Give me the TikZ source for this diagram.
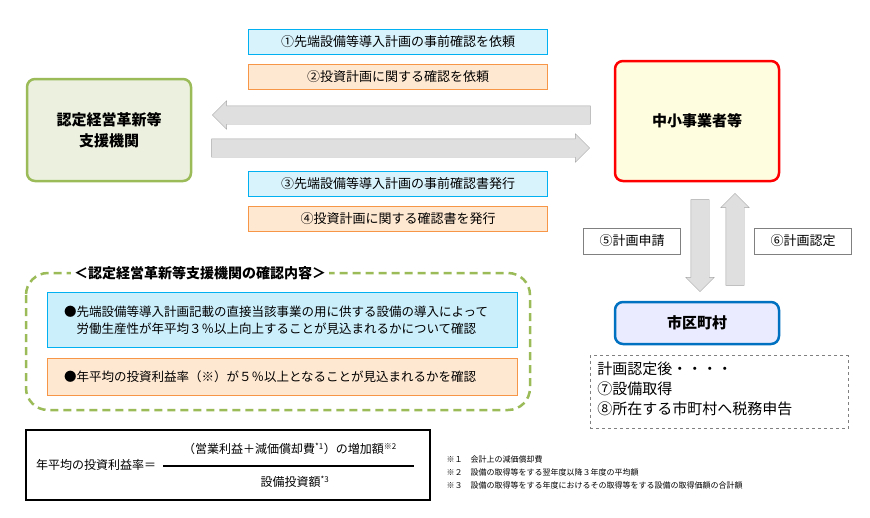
\documentclass[tikz,border=0pt]{standalone}
\usepackage{fontspec}
\setmainfont{Noto Sans CJK JP}
\usetikzlibrary{shapes.arrows, positioning, calc}
\definecolor{kgreen}{RGB}{155, 187, 89}
\definecolor{kcyan}{RGB}{0, 176, 240}
\definecolor{korange}{RGB}{247, 150, 70}
\definecolor{kblue}{RGB}{0, 112, 192}
\tikzset{
    actorbox/.style={rectangle, rounded corners=8pt, line width=2.5pt, align=center,
                     font=\bfseries\fontsize{15}{21}\selectfont},
    cyanlabel/.style={rectangle, draw=kcyan, fill=cyan!15, minimum width=299pt,
                      minimum height=25pt, font=\fontsize{13}{15}\selectfont},
    orangelabel/.style={rectangle, draw=korange, fill=orange!18, minimum width=299pt,
                        minimum height=25pt, font=\fontsize{13}{15}\selectfont},
    steplabel/.style={rectangle, draw=gray, fill=white, minimum width=97pt,
                      minimum height=26pt, font=\fontsize{13}{15}\selectfont},
    bigarrow/.style={single arrow, draw=gray!70, fill=gray!25, minimum height=378pt,
                     minimum width=28pt, single arrow head extend=5pt, inner sep=9pt},
    uparrow/.style={single arrow, draw=gray!70, fill=gray!25, minimum height=92pt,
                    minimum width=28pt, single arrow head extend=5pt, inner sep=9pt},
    note/.style={anchor=west, font=\fontsize{8}{10}\selectfont},
}
\begin{document}
\begin{tikzpicture}[x=1pt, y=-1pt]
\useasboundingbox (0,0) rectangle (870,517);
% actors
\node[actorbox, draw=kgreen, fill=kgreen!20, minimum width=164pt, minimum height=102pt] (shien) at (109,130) {認定経営革新等\\支援機関};
\node[actorbox, draw=red, fill=yellow!12, minimum width=164pt, minimum height=120pt] (chusho) at (697,121) {中小事業者等};
\node[actorbox, draw=kblue, fill=blue!8, minimum width=164pt, minimum height=42pt] (shiku) at (697,323) {市区町村};
% horizontal flows
\node[bigarrow, shape border rotate=180] (toleft) at (406,115) {};
\node[bigarrow] (toright) at (396,148) {};
\node[cyanlabel] (req1) at (398,42) {①先端設備等導入計画の事前確認を依頼};
\node[orangelabel] (req2) at (398,77) {②投資計画に関する確認を依頼};
\node[cyanlabel] (iss1) at (398,184) {③先端設備等導入計画の事前確認書発行};
\node[orangelabel] (iss2) at (398,219) {④投資計画に関する確認書を発行};
% vertical flows
\node[uparrow, shape border rotate=270] (down) at (700,241) {};
\node[uparrow, shape border rotate=90] (up) at (735,244) {};
\node[steplabel] (apply) at (632,241) {⑤計画申請};
\node[steplabel] (approve) at (803,241) {⑥計画認定};
% after approval
\node[draw=gray, dashed, minimum width=258pt, minimum height=73pt] (after) at (719,392) {};
\node[anchor=north west, align=left, font=\fontsize{15}{20}\selectfont] (aftertext) at ($(after.north west)+(4,3)$) {計画認定後・・・・\\⑦設備取得\\⑧所在する市町村へ税務申告};
% confirmation contents
\draw[kgreen, line width=2.5pt, dash pattern=on 8pt off 5pt, rounded corners=22pt] (26,273) rectangle (530,410);
\node[fill=white, font=\bfseries\fontsize{14}{16}\selectfont] (ctitle) at (200,273) {＜認定経営革新等支援機関の確認内容＞};
\node[draw=kcyan, fill=cyan!20, minimum width=470pt, minimum height=55pt, align=left, text width=436pt,
      font=\fontsize{12.5}{17}\selectfont] (check1) at (282,320) {●先端設備等導入計画記載の直接当該事業の用に供する設備の導入によって\\\phantom{●}労働生産性が年平均３％以上向上することが見込まれるかについて確認};
\node[draw=korange, fill=orange!18, minimum width=470pt, minimum height=37pt, align=left,
      font=\fontsize{12.5}{17}\selectfont, text width=436pt] (check2) at (282,377) {●年平均の投資利益率（※）が５％以上となることが見込まれるかを確認};
% formula
\node[draw, line width=2pt, minimum width=404pt, minimum height=70pt] (formula) at (228,465) {};
\node[font=\fontsize{12}{14}\selectfont] (rate) at (96,465) {年平均の投資利益率＝};
\draw[line width=1.2pt] (163,466) -- (414,466);
\node[font=\fontsize{12}{14}\selectfont] (numer) at (290,449) {（営業利益＋減価償却費\textsuperscript{*1}）の増加額\textsuperscript{※2}};
\node[font=\fontsize{12}{14}\selectfont] (denom) at (295,482) {設備投資額\textsuperscript{*3}};
% notes
\node[note] (n1) at (443,459) {※１\quad 会計上の減価償却費};
\node[note] (n2) at (443,472) {※２\quad 設備の取得等をする翌年度以降３年度の平均額};
\node[note] (n3) at (443,485) {※３\quad 設備の取得等をする年度におけるその取得等をする設備の取得価額の合計額};
\end{tikzpicture}
\end{document}
